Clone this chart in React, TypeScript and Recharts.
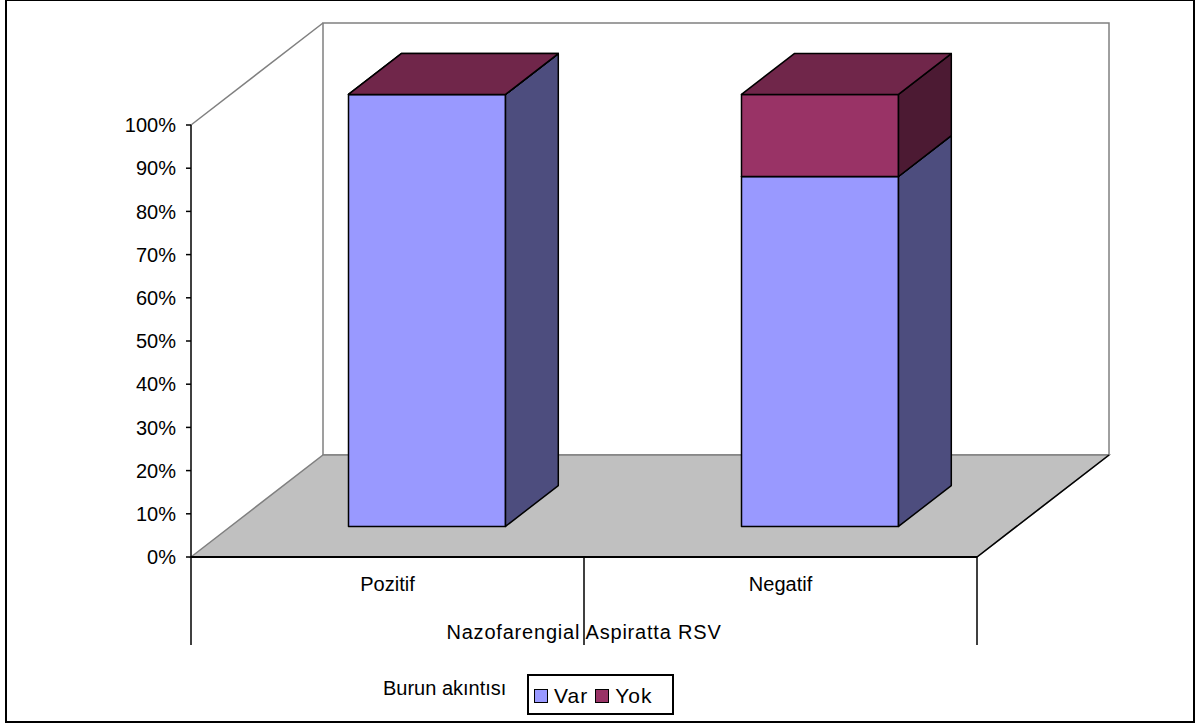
import { BarChart, Bar, XAxis, YAxis, Legend, ReferenceArea } from 'recharts'

const categories = ['Pozitif', 'Negatif']
const varValues = [100, 81]
const yokValues = [0, 19]
const seriesKeys = ['var', 'yok']
const seriesNames = ['Var', 'Yok']
const frontColors = ['#9999FF', '#993366']
const sideColors = ['#4D4D7E', '#4C1A33']
const topColors = ['#7373BF', '#70264A']
const yTicks = [0, 0.1, 0.2, 0.3, 0.4, 0.5, 0.6, 0.7, 0.8, 0.9, 1]
const xTitle = 'Nazofarengial Aspiratta RSV'
const legendTitle = 'Burun akıntısı'

const data = categories.map((name, i) => ({ name, var: varValues[i], yok: yokValues[i] }))

const FONT = '"Liberation Sans", Arial, sans-serif'
// 3d projection of the depth axis (px)
const DEPTH_X = 132
const DEPTH_Y = -102
const X_AXIS_H = 88

const pts = (p: number[][]) => p.map((q) => q.join(',')).join(' ')

function makeBox(s: number) {
  return (props: any) => {
    const { x, y, width, height } = props
    if (x == null || y == null) return null
    const fx = x + DEPTH_X * 0.3
    const fy = y + DEPTH_Y * 0.3
    const dx = DEPTH_X * 0.4
    const dy = DEPTH_Y * 0.4
    const r = fx + width
    const b = fy + height
    return (
      <g stroke="#000" strokeWidth={1.5} strokeLinejoin="round">
        <rect x={fx} y={fy} width={width} height={height} fill={frontColors[s]} />
        <polygon points={pts([[r, fy], [r + dx, fy + dy], [r + dx, b + dy], [r, b]])} fill={sideColors[s]} />
        <polygon points={pts([[fx, fy], [fx + dx, fy + dy], [r + dx, fy + dy], [r, fy]])} fill={topColors[s]} />
      </g>
    )
  }
}

function Room(props: any) {
  const { x, y, width, height } = props
  const b = y + height
  const n = categories.length
  return (
    <g>
      <rect x={x + DEPTH_X} y={y + DEPTH_Y} width={width} height={height} fill="#fff" stroke="#808080" strokeWidth={1.5} />
      <line x1={x} y1={y} x2={x + DEPTH_X} y2={y + DEPTH_Y} stroke="#808080" strokeWidth={1.5} />
      <polygon
        points={pts([[x, b], [x + DEPTH_X, b + DEPTH_Y], [x + width + DEPTH_X, b + DEPTH_Y], [x + width, b]])}
        fill="#C0C0C0"
        stroke="#808080"
        strokeWidth={1.5}
      />
      <line x1={x + width} y1={b} x2={x + width + DEPTH_X} y2={b + DEPTH_Y} stroke="#000" strokeWidth={1.5} />
      <line x1={x} y1={b} x2={x + width} y2={b} stroke="#000" strokeWidth={2} />
      {Array.from({ length: n + 1 }, (_, i) => (
        <line key={i} x1={x + (width * i) / n} y1={b} x2={x + (width * i) / n} y2={b + X_AXIS_H} stroke="#000" strokeWidth={1.5} />
      ))}
    </g>
  )
}

function CategoryTick(props: any) {
  const { x, y, payload } = props
  return (
    <text x={x} y={y} dy={26} textAnchor="middle" fontFamily={FONT} fontSize={20} fill="#000">
      {payload.value}
    </text>
  )
}

function LegendBox(props: any) {
  const payload = props.payload || []
  return (
    <div style={{ display: 'flex', alignItems: 'flex-start', fontFamily: FONT, fontSize: 20, color: '#000' }}>
      <div style={{ width: 144, lineHeight: '24px', marginTop: 2 }}>{legendTitle}</div>
      <div
        style={{
          border: '2px solid #000',
          width: 147,
          height: 41,
          boxSizing: 'border-box',
          display: 'flex',
          alignItems: 'center',
          padding: '2px 0 0 5px',
          fontSize: 21,
          letterSpacing: 1,
        }}
      >
        {payload.map((p: any, i: number) => (
          <span key={p.value} style={{ display: 'flex', alignItems: 'center', marginRight: i < payload.length - 1 ? 7 : 0 }}>
            <span
              style={{
                width: 14,
                height: 14,
                border: '1.5px solid #000',
                background: p.color,
                marginRight: 6,
                boxSizing: 'border-box',
              }}
            />
            {p.value}
          </span>
        ))}
      </div>
    </div>
  )
}

export default function App() {
  return (
    <div style={{ position: 'absolute', left: 0, top: 0, width: 1199, height: 726, background: '#fff' }}>
      <div
        style={{
          position: 'absolute',
          left: 5,
          top: -1,
          width: 1190,
          height: 724,
          border: '2px solid #000',
          boxSizing: 'border-box',
        }}
      />
      <BarChart
        width={1199}
        height={726}
        data={data}
        stackOffset="expand"
        barCategoryGap="30%"
        margin={{ top: 125, right: 222, bottom: 726 - 557 - X_AXIS_H, left: 131 }}
        style={{ position: 'absolute', left: 0, top: 0 }}
      >
        <ReferenceArea y1={0} y2={1} shape={Room} ifOverflow="visible" />
        <XAxis
          dataKey="name"
          height={X_AXIS_H}
          axisLine={false}
          tickLine={false}
          tick={CategoryTick}
          label={{ value: xTitle, position: 'insideBottom', offset: 6, fontFamily: FONT, fontSize: 20, fill: '#000', letterSpacing: 0.8 }}
        />
        <YAxis
          width={60}
          domain={[0, 1]}
          ticks={yTicks}
          tickFormatter={(v: number) => `${Math.round(v * 100)}%`}
          axisLine={{ stroke: '#000', strokeWidth: 1.5 }}
          tickLine={{ stroke: '#000', strokeWidth: 1.5 }}
          tickSize={5}
          tickMargin={10}
          tick={{ fontFamily: FONT, fontSize: 20, fill: '#000' }}
        />
        {seriesKeys.map((k, i) => (
          <Bar
            key={k}
            dataKey={k}
            name={seriesNames[i]}
            stackId="a"
            fill={frontColors[i]}
            shape={makeBox(i)}
            isAnimationActive={false}
          />
        ))}
        <Legend
          layout="horizontal"
          verticalAlign="middle"
          align="center"
          content={LegendBox}
          wrapperStyle={{ left: 383, top: 674, width: 'auto', height: 'auto' }}
        />
      </BarChart>
    </div>
  )
}
